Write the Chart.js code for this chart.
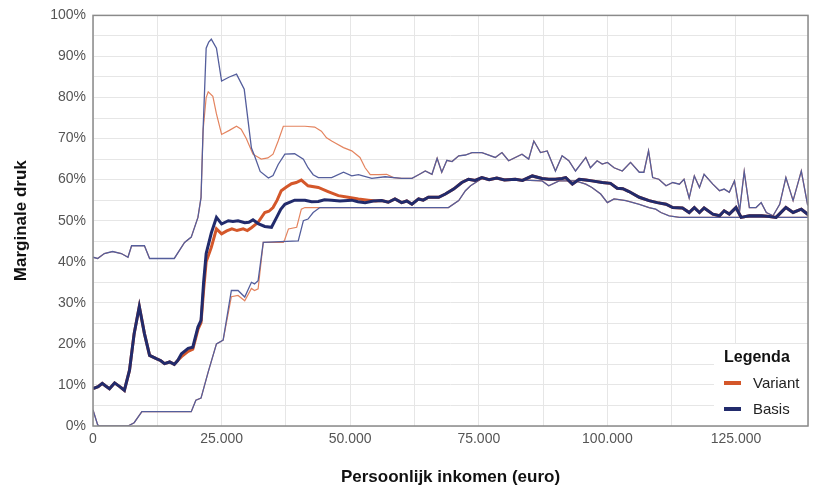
<!DOCTYPE html>
<html>
<head>
<meta charset="utf-8">
<script src="https://cdn.jsdelivr.net/npm/chart.js@4.4.1/dist/chart.umd.min.js"></script>
<style>
  html, body { margin: 0; padding: 0; background: #fff; }
  #wrap { width: 813px; height: 490px; }
</style>
</head>
<body>
<div id="wrap"><canvas id="chart" width="813" height="490"></canvas></div>
<script>
// income in thousands of euros, marginal pressure in %
const basisMid = [
  [0, 9.1], [1, 9.6], [1.8, 10.4], [2.4, 9.8], [3.2, 9.1], [4.2, 10.5], [5.2, 9.6], [6.1, 8.7],
  [7.1, 13.6], [8, 22.5], [9, 29.1], [10, 22.5], [11, 17.2], [12.3, 16.4], [13.2, 15.9], [13.9, 15.2],
  [14.9, 15.6], [15.8, 15], [16.5, 16], [17.2, 17.6], [18.5, 18.9], [19.4, 19.2], [20.4, 24.1], [21, 25.7],
  [21.5, 35], [22, 42], [23, 47], [24, 50.8], [25, 49.2], [26.3, 50], [27.2, 49.8], [28.2, 50],
  [29.5, 49.5], [30.3, 49.6], [31.1, 50.2], [32.1, 49.3], [33.4, 48.6], [34.7, 48.4], [35.7, 50.8], [36.5, 52.8],
  [37.3, 54], [39.2, 55], [41.2, 55], [42.5, 54.6], [43.8, 54.7], [45, 55.1], [46.4, 55], [48, 54.8],
  [50.3, 55], [51.5, 54.6], [52.9, 54.4], [54.5, 54.8], [56.1, 54.9], [57.4, 54.5], [58.7, 55.3], [60, 54.4],
  [61, 54.8], [62, 54], [63.3, 55.3], [64.2, 55], [65.2, 55.7], [67.2, 55.7], [68.5, 56.5], [70.1, 57.7],
  [71.7, 59.3], [73, 60.1], [74.3, 59.8], [75.6, 60.5], [77, 60], [78.5, 60.4], [80, 59.9], [82.1, 60.1],
  [83.5, 59.8], [85.4, 60.9], [87.3, 60.3], [88.6, 60.1], [89.9, 60.1], [91.2, 60.3], [91.9, 60.5], [93.2, 58.9],
  [94.5, 60.1], [95.8, 59.9], [97, 59.7], [99, 59.3], [100.6, 59.1], [101.9, 57.9], [103, 57.8], [104.2, 57.1],
  [106.2, 55.7], [108.1, 54.9], [109.7, 54.4], [111.4, 54], [112.7, 53.2], [114.6, 53.1], [115.9, 52], [116.9, 53.2],
  [117.9, 52], [118.8, 53.1], [120.5, 51.6], [121.8, 51.2], [122.7, 52.4], [123.7, 51.6], [125, 53.2], [126, 50.8],
  [127.6, 51.2], [130, 51.2], [131.5, 51], [132.8, 50.8], [134.7, 53.2], [136.1, 52], [137.7, 52.8], [139.3, 51.2],
  [139.6, 51]
];

const basisHi = [
  [0, 41.1], [0.9, 40.8], [2.2, 42], [3.8, 42.5], [5.5, 42], [6.8, 41.1], [7.5, 43.9], [10, 43.9],
  [11, 40.8], [15.8, 40.8], [17.8, 44.7], [19.1, 46], [20.4, 50.8], [21, 55.6], [21.4, 72], [22, 92],
  [22.5, 93.5], [23, 94.2], [24, 92], [25, 84], [26.5, 85], [27.9, 85.7], [29.4, 82], [30.8, 67.7],
  [31.4, 65.8], [32.5, 62], [34.1, 60.4], [35, 61], [36, 63.7], [37.3, 66.2], [39.2, 66.3], [40.9, 65],
  [41.8, 62.9], [42.8, 61.2], [43.8, 60.5], [46.4, 60.5], [48.7, 61.8], [50.3, 60.9], [51.6, 61.2], [54.2, 60.3],
  [56.8, 60.7], [60, 60.3], [62, 60.3], [63.3, 61.2], [64.6, 62.1], [65.9, 61.3], [66.9, 65.2], [67.8, 61.8],
  [68.8, 64.7], [69.8, 64.4], [71.1, 65.8], [72.4, 66], [73.7, 66.6], [75.6, 66.6], [78.2, 65.4], [79.5, 66.6],
  [80.8, 64.6], [83.4, 66.2], [84.7, 65], [85.7, 69.4], [87, 66.6], [88.3, 67], [89.9, 62.1], [91.2, 65.8],
  [92.5, 64.6], [93.8, 62.1], [95.8, 65.4], [96.7, 62.9], [98, 64.6], [99, 63.8], [100, 64.2], [101.3, 62.9],
  [102.9, 62.1], [104.5, 64.2], [106.2, 61.8], [107.1, 61.8], [108, 67], [108.8, 60.5], [110, 60.1], [111.4, 58.5],
  [112.7, 59.3], [114, 58.9], [114.9, 60.1], [115.9, 55.5], [116.9, 60.9], [117.9, 58.1], [118.8, 61.3], [120.5, 58.9],
  [121.8, 57.3], [122.7, 57.7], [123.7, 56.9], [124.7, 59.7], [125.7, 52.4], [126.6, 62], [127.6, 53.2], [128.9, 53.2],
  [129.9, 54.4], [130.9, 52], [132.2, 51.2], [133.5, 54], [134.7, 60.5], [136.1, 54.9], [137.7, 62.1], [138.9, 54],
  [139.6, 55.3]
];

const basisLo = [
  [0, 3.9], [0.9, 0.3], [1.2, 0], [6.8, 0], [8, 0.8], [9.5, 3.5], [19.1, 3.5], [20, 6.3],
  [21, 6.8], [22.4, 13.2], [24, 20], [25.3, 20.9], [26.9, 33], [28.2, 33], [29.5, 31.4], [30.8, 35],
  [31.4, 34.6], [32.1, 35.4], [33.1, 44.7], [39.9, 45.1], [40.9, 50], [41.8, 50.4], [42.8, 52], [44.1, 53.2],
  [69.1, 53.2], [71.1, 54.9], [72.4, 57.3], [73.4, 58.5], [75.6, 60.3], [87.3, 59.7], [88.6, 58.5], [90.6, 59.7],
  [93.8, 59.7], [95.8, 58.9], [97, 58.1], [98.7, 56.5], [100, 54.4], [101.3, 55.3], [103.6, 54.9], [106.2, 54],
  [108.1, 53.2], [109.4, 52.8], [110.4, 52], [112, 51.2], [114, 50.8], [139.6, 50.8]
];

// Variant only departs from Basis in these stretches
const variantMidDiff = [
  [17.2, 16.9], [18.5, 18.2], [19.4, 18.7], [20.4, 23.5], [21, 25.2], [21.5, 33], [22, 40], [23, 43.5],
  [24, 48], [25, 46.8], [26, 47.5], [27, 48], [28, 47.6], [29.2, 48], [30, 47.6], [30.8, 48.3],
  [32.1, 49.6], [33.4, 52], [34.2, 52.3], [35, 53.2], [35.8, 55], [36.6, 57.3], [37.6, 58.2], [38.6, 59],
  [39.5, 59.3], [40.5, 59.9], [41.8, 58.5], [43.8, 58.1], [45.7, 57.1], [47.7, 56.1], [49.6, 55.7], [51.6, 55.3],
  [53.5, 55], [55, 54.8]
];

const variantHiDiff = [
  [21.4, 72], [22, 80], [22.4, 81.4], [23.3, 80.3], [24, 76], [25, 71], [26.5, 72], [27.9, 73],
  [28.8, 72.3], [29.8, 70], [31.1, 66.2], [32.7, 65], [34, 65.3], [35, 66.2], [36, 69.4], [37, 73],
  [41.2, 73], [43.1, 72.8], [44.4, 71.8], [45.4, 70.2], [46.4, 69.4], [47, 69], [48.7, 67.8], [50.3, 67],
  [51.9, 65.4], [52.9, 62.9], [53.9, 61.2], [55.5, 61.2], [57.1, 61.3], [58.4, 60.5]
];

const variantLoDiff = [
  [26.9, 31.5], [28.2, 31.8], [29.5, 30.5], [30.8, 33.5], [31.4, 33], [32.1, 33.4], [33.1, 44.7], [37, 44.7],
  [37.3, 45.5], [38, 48], [39.6, 48.4], [40.5, 52.8], [41.2, 53.2], [44.1, 53.2]
];

const yTicks = [0, 10, 20, 30, 40, 50, 60, 70, 80, 90, 100];
const xTicks = [0, 25, 50, 75, 100, 125];

const NAVY = '#222b6c';
const ORANGE = '#d4572a';
const NAVY_THIN = '#545e9c';
const ORANGE_THIN = '#e4845f';
const FONT = '"Liberation Sans", Arial, sans-serif';

function splice(base, diff) {
  const from = diff[0][0], to = diff[diff.length - 1][0];
  return base.filter(p => p[0] < from).concat(diff, base.filter(p => p[0] > to));
}
const pts = arr => arr.map(([x, y]) => ({x, y}));
const euro = v => String(v * 1000).replace(/\B(?=(\d{3})+(?!\d))/g, '.');

const variantMid = splice(basisMid, variantMidDiff);
const variantHi = splice(basisHi, variantHiDiff);
const variantLo = splice(basisLo, variantLoDiff);

function line(label, data, color, width) {
  return { label, data: pts(data), borderColor: color, backgroundColor: color, borderWidth: width,
           pointRadius: 0, tension: 0, fill: false };
}

const frameAndLegend = {
  id: 'frameAndLegend',
  afterDatasetsDraw(chart) {
    const {ctx, chartArea: a} = chart;
    ctx.save();
    const lx = a.right - 94, ly = a.bottom - 82;
    ctx.fillStyle = '#fff';
    ctx.fillRect(lx, ly, 94, 82);
    ctx.fillStyle = '#111';
    ctx.textBaseline = 'middle';
    ctx.font = 'bold 16px ' + FONT;
    ctx.fillText('Legenda', lx + 10, ly + 14);
    ctx.font = '15px ' + FONT;
    [['Variant', ORANGE], ['Basis', NAVY]].forEach(([name, col], i) => {
      const y = ly + 39 + i * 26;
      ctx.fillStyle = col;
      ctx.fillRect(lx + 10, y - 2, 17, 4);
      ctx.fillStyle = '#222';
      ctx.fillText(name, lx + 39, y + 1);
    });
    ctx.strokeStyle = '#8a8a8a';
    ctx.lineWidth = 1.5;
    ctx.strokeRect(a.left, a.top, a.width, a.height);
    ctx.restore();
  }
};

Chart.defaults.font.family = FONT;

new Chart(document.getElementById('chart'), {
  type: 'line',
  data: {
    datasets: [
      line('Basis', basisMid, NAVY, 3),
      line('Variant', variantMid, ORANGE, 3),
      line('Basis boven', basisHi, NAVY_THIN, 1.3),
      line('Basis onder', basisLo, NAVY_THIN, 1.3),
      line('Variant boven', variantHi, ORANGE_THIN, 1.2),
      line('Variant onder', variantLo, ORANGE_THIN, 1.2)
    ]
  },
  options: {
    responsive: false,
    animation: false,
    layout: { padding: { top: 13, right: 4, left: 0, bottom: 0 } },
    plugins: { legend: { display: false }, tooltip: { enabled: false } },
    scales: {
      x: {
        type: 'linear',
        min: 0,
        max: 139,
        grid: { color: '#e6e6e6', drawTicks: false },
        border: { display: false },
        ticks: {
          stepSize: 12.5,
          autoSkip: false,
          maxRotation: 0,
          padding: 5,
          color: '#555',
          font: { size: 14 },
          callback: v => xTicks.includes(v) ? euro(v) : ''
        },
        title: { display: true, text: 'Persoonlijk inkomen (euro)', color: '#111',
                 font: { size: 17, weight: 'bold' }, padding: { top: 0, bottom: 2 } },
        afterFit(s) { s.height = 64; }
      },
      y: {
        min: 0,
        max: 100,
        grid: { color: '#e6e6e6', drawTicks: false },
        border: { display: false },
        ticks: {
          stepSize: 5,
          autoSkip: false,
          padding: 7,
          color: '#555',
          font: { size: 14 },
          callback: v => yTicks.includes(v) ? v + '%' : ''
        },
        title: { display: true, text: 'Marginale druk', color: '#111',
                 font: { size: 17, weight: 'bold' }, padding: { top: 11, bottom: 0 } },
        afterFit(s) { s.width = 93; }
      }
    }
  },
  plugins: [frameAndLegend]
});
</script>
</body>
</html>
